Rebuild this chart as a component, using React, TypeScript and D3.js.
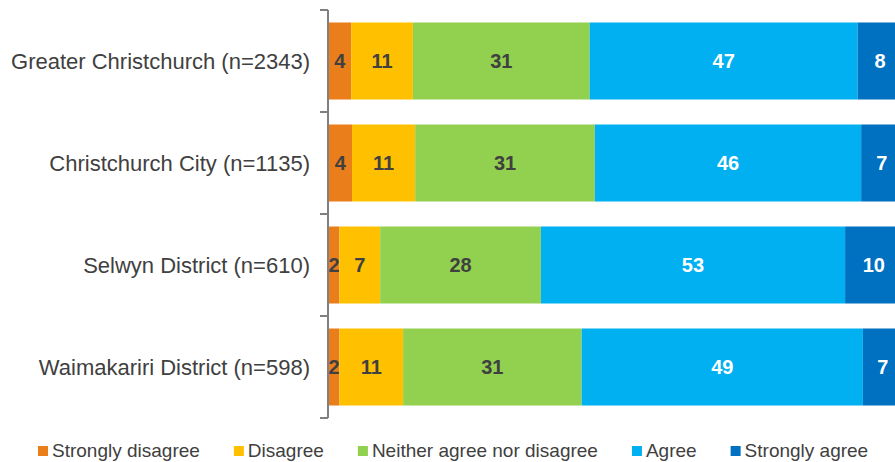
import React from "react";
import * as d3 from "d3";

const categories = [
  "Greater Christchurch (n=2343)",
  "Christchurch City (n=1135)",
  "Selwyn District (n=610)",
  "Waimakariri District (n=598)",
];
const seriesNames = [
  "Strongly disagree",
  "Disagree",
  "Neither agree nor disagree",
  "Agree",
  "Strongly agree",
];
const stronglyDisagree = [3.95, 4.1, 1.9, 1.9];
const disagree = [10.75, 11.0, 7.1, 11.1];
const neither = [30.8, 31.3, 28.0, 31.1];
const agree = [46.7, 46.4, 53.0, 49.0];
const stronglyAgree = [7.8, 7.2, 10.0, 6.9];
const colors = ["#E97E1B", "#FFC000", "#92D050", "#00B0F0", "#0070C0"];
const labelColors = ["#404040", "#404040", "#404040", "#FFFFFF", "#FFFFFF"];

const W = 895;
const H = 462;
const FONT = "'Liberation Sans', Arial, sans-serif";

function measure(text: string, size: number, weight = "normal") {
  const c = document.createElement("canvas").getContext("2d")!;
  c.font = `${weight} ${size}px 'Liberation Sans', Arial, sans-serif`;
  return c.measureText(text).width;
}

export default function App() {
  const seriesValues = [stronglyDisagree, disagree, neither, agree, stronglyAgree];
  const rows = categories.map((c, i) => {
    const r: any = { category: c };
    seriesNames.forEach((s, j) => (r[s] = seriesValues[j][i]));
    return r;
  });
  const stack = d3.stack<any>().keys(seriesNames)(rows);

  const x = d3.scaleLinear().domain([0, 100]).range([328.5, 902.5]);
  const y = d3
    .scaleBand<string>()
    .domain(categories)
    .range([10, 418])
    .paddingInner(0.245)
    .paddingOuter(0.1225);
  const step = y.step();
  const tickYs = d3.range(categories.length + 1).map((i) => 10 + i * step);

  // legend layout
  const legendSize = 19;
  const sw = 10;
  let lx = 38;
  const legendItems = seriesNames.map((s, i) => {
    const item = { name: s, color: colors[i], x: lx };
    lx += sw + 4 + measure(s, legendSize) + 34;
    return item;
  });

  return (
    <svg
      width={W}
      height={H}
      style={{ position: "absolute", left: 0, top: 0, background: "#fff" }}
      fontFamily={FONT}
    >
      {stack.map((layer, j) => (
        <g key={layer.key}>
          {layer.map((d, i) => (
            <g key={i}>
              <rect
                x={x(d[0])}
                y={y(categories[i])!}
                width={x(d[1]) - x(d[0])}
                height={y.bandwidth()}
                fill={colors[j]}
              />
              <text
                x={(x(d[0]) + x(d[1])) / 2}
                y={y(categories[i])! + y.bandwidth() / 2}
                dy="0.36em"
                textAnchor="middle"
                fontSize={20}
                fontWeight="bold"
                fill={labelColors[j]}
              >
                {d3.format(".0f")(d[1] - d[0])}
              </text>
            </g>
          ))}
        </g>
      ))}
      <line x1={328} x2={328} y1={10} y2={418} stroke="#808080" strokeWidth={2} />
      {tickYs.map((t, i) => (
        <line key={i} x1={320} x2={328} y1={t} y2={t} stroke="#808080" strokeWidth={2} />
      ))}
      {categories.map((c) => (
        <text
          key={c}
          x={310}
          y={y(c)! + y.bandwidth() / 2}
          dy="0.35em"
          textAnchor="end"
          fontSize={22}
          fill="#404040"
        >
          {c}
        </text>
      ))}
      {legendItems.map((it) => (
        <g key={it.name}>
          <rect x={it.x} y={446} width={sw} height={sw} fill={it.color} />
          <text x={it.x + sw + 4} y={457} fontSize={legendSize} fill="#404040">
            {it.name}
          </text>
        </g>
      ))}
    </svg>
  );
}
